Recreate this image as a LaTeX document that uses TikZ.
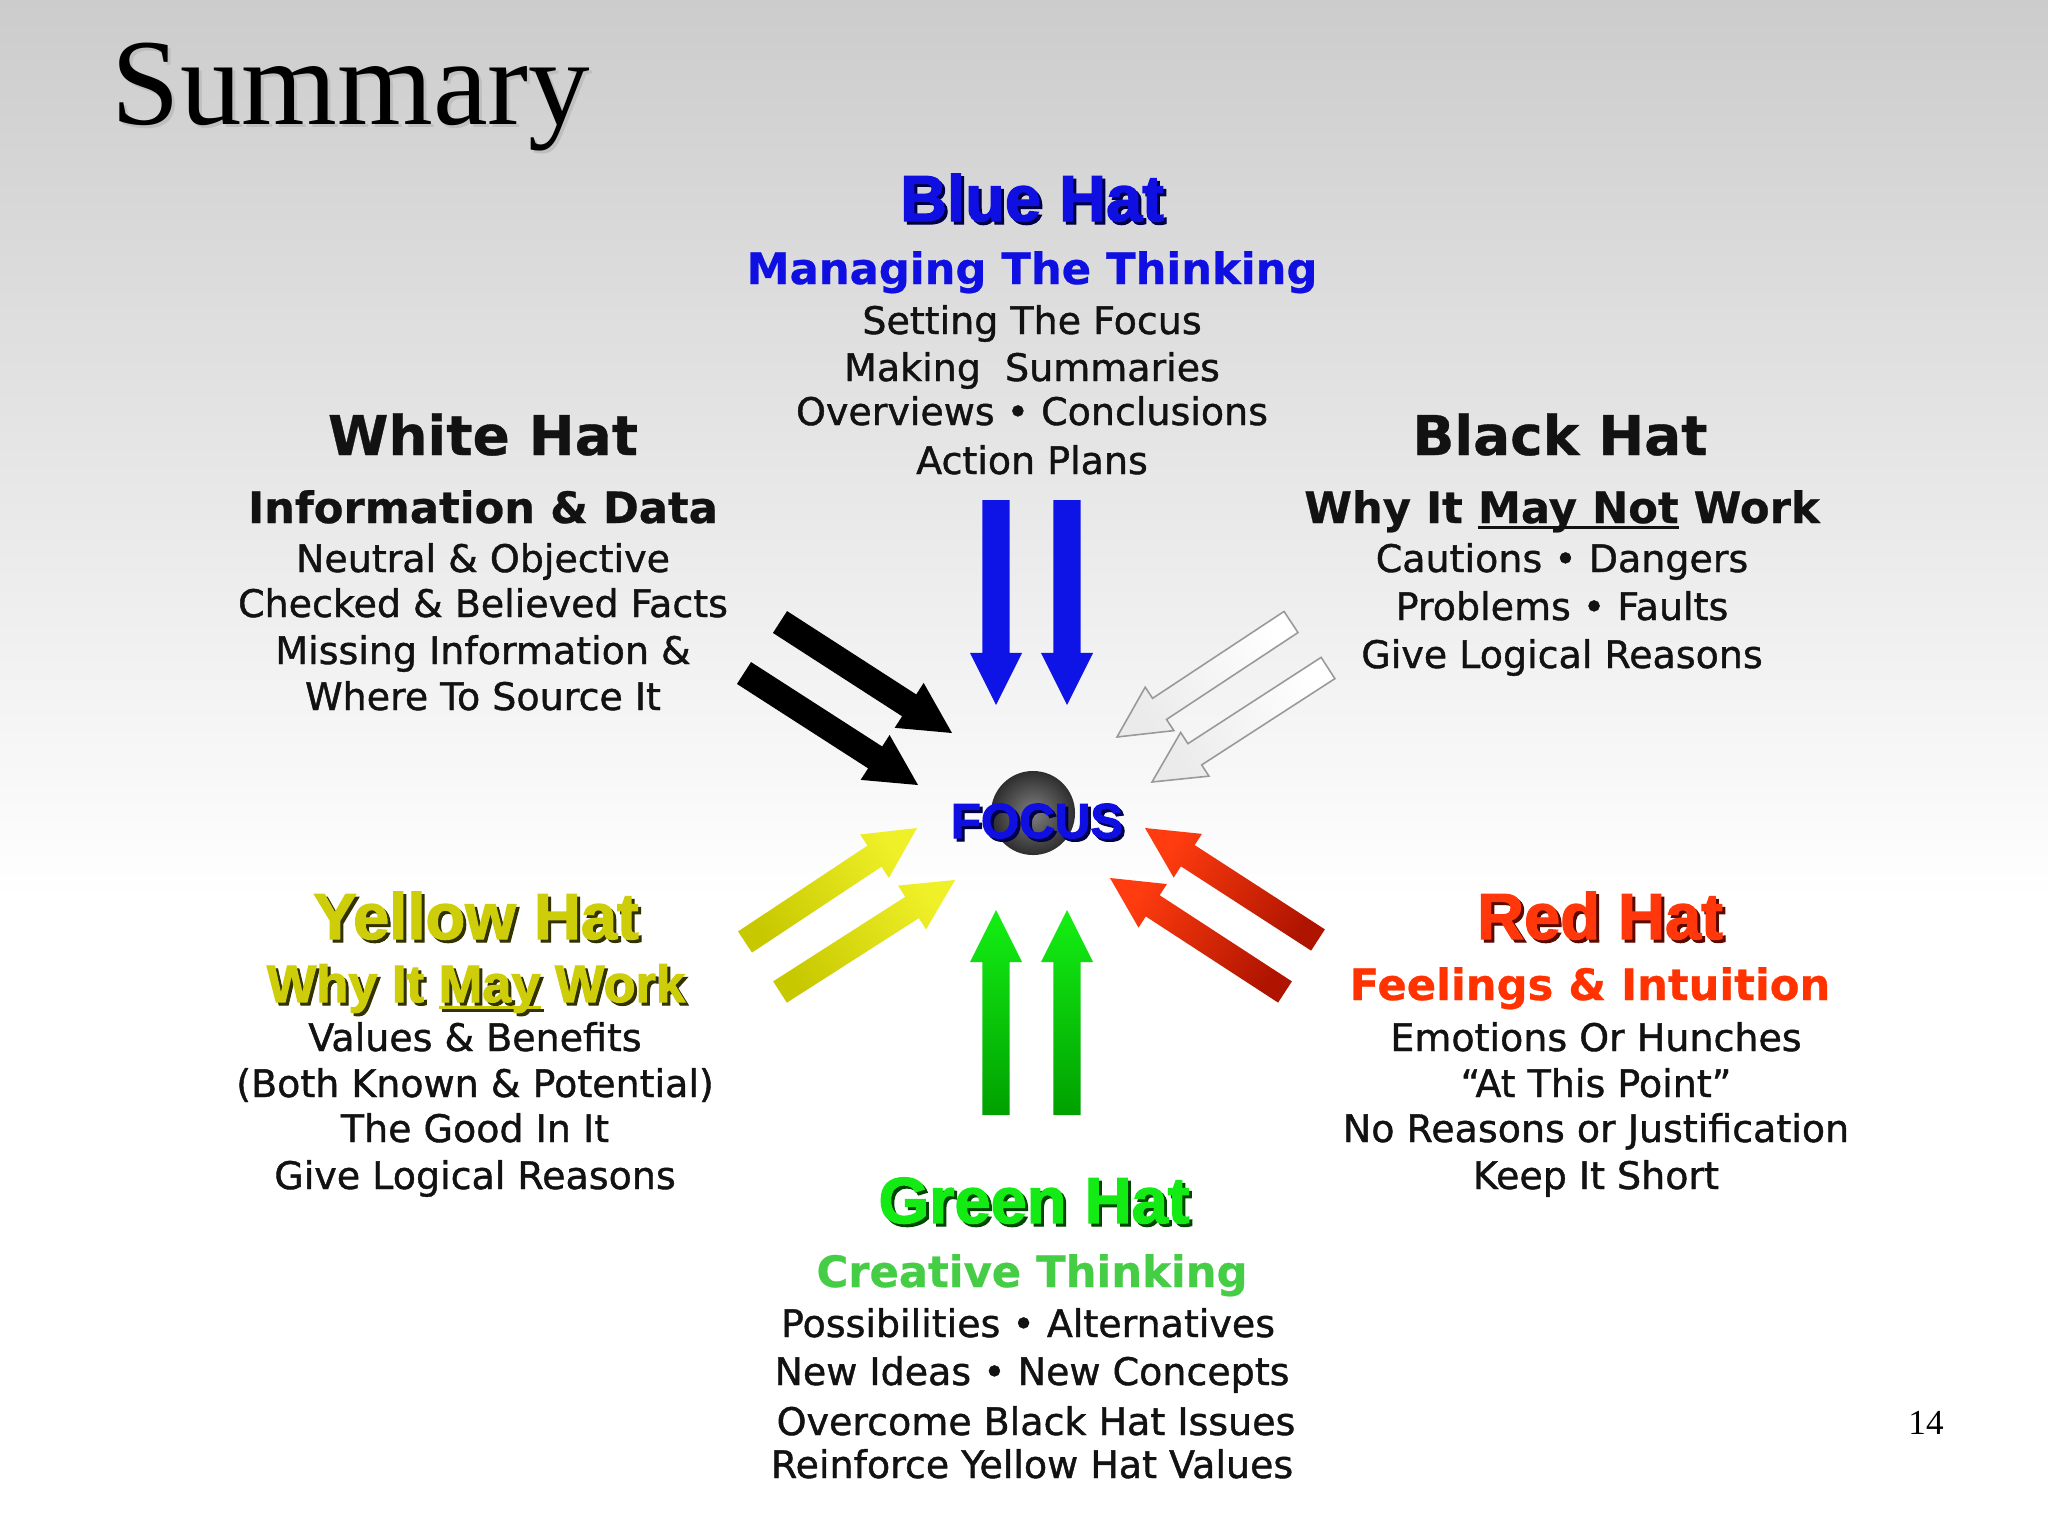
\documentclass[tikz,border=0pt]{standalone}
\usepackage{fontspec}
\usetikzlibrary{calc}
\setmainfont{Liberation Serif}
\newfontfamily\hatfont{Liberation Sans}[BoldFeatures={FakeBold=2}]
\newfontfamily\subfont{DejaVu Sans}[BoldFeatures={FakeBold=0.6}]
\newfontfamily\bodyfont{DejaVu Sans}[FakeBold=1.1]
\definecolor{txtdark}{RGB}{18,18,18}
\definecolor{bluehat}{RGB}{15,15,225}
\definecolor{blueshadow}{RGB}{0,0,70}
\definecolor{yellowhat}{RGB}{205,205,10}
\definecolor{yellowshadow}{RGB}{50,50,0}
\definecolor{redhat}{RGB}{255,55,10}
\definecolor{redshadow}{RGB}{90,10,0}
\definecolor{greenhat}{RGB}{20,235,20}
\definecolor{greenshadow}{RGB}{0,70,0}
\definecolor{greensub}{RGB}{70,205,70}
\definecolor{redsub}{RGB}{255,50,0}
\newcommand\myul[1]{\setbox0\hbox{#1}\rlap{\rule[-0.14em]{\wd0}{0.065em}}\box0\relax}
\newcommand\shtext[7]{%
  \node[#4, text=#6] (#1s) at ($(#2,#3)+(3,3)$) {#7};
  \node[#4, text=#5] (#1) at (#2,#3) {#7};}
\newcommand\blockarrow[6]{%
  \path[#1] ($(#2)!#4!90:(#3)$)
   -- ($($(#3)!#6!(#2)$)!#4!90:(#3)$)
   -- ($($(#3)!#6!(#2)$)!#5!90:(#3)$)
   -- (#3)
   -- ($($(#3)!#6!(#2)$)!#5!-90:(#3)$)
   -- ($($(#3)!#6!(#2)$)!#4!-90:(#3)$)
   -- ($(#2)!#4!-90:(#3)$) -- cycle;}
\begin{document}
\begin{tikzpicture}[x=0.01cm,y=-0.01cm,
  bodytxt/.style={font=\bodyfont\fontsize{10.8}{13}\selectfont, text=txtdark, anchor=base, inner sep=0pt},
  subtxt/.style={font=\subfont\bfseries\fontsize{12.3}{14}\selectfont, anchor=base, inner sep=0pt},
  bigtxt/.style={font=\subfont\bfseries\fontsize{15.6}{18}\selectfont, text=txtdark, anchor=base, inner sep=0pt},
  hattxt/.style={font=\hatfont\bfseries\fontsize{18.5}{20}\selectfont, anchor=base, inner sep=0pt},
  maytxt/.style={font=\hatfont\bfseries\fontsize{14.9}{17}\selectfont, anchor=base, inner sep=0pt},
  focustxt/.style={font=\hatfont\bfseries\fontsize{14}{16}\selectfont, anchor=base, inner sep=0pt},
  bluearrow/.style={fill={rgb,255:red,15;green,20;blue,230}},
  blackarrow/.style={fill=black},
  whitearrow/.style={draw=black!40, line width=0.45pt, top color=black!8, bottom color=white, shading angle=123.5},
  redarrow/.style={top color={rgb,255:red,255;green,60;blue,15}, bottom color={rgb,255:red,175;green,20;blue,0}, shading angle=57},
  yellowarrow/.style={top color={rgb,255:red,240;green,240;blue,40}, bottom color={rgb,255:red,200;green,200;blue,0}, shading angle=-56.5},
  greenarrow/.style={top color={rgb,255:red,20;green,240;blue,20}, bottom color={rgb,255:red,0;green,160;blue,0}}
]
\useasboundingbox (0,0) rectangle (2048,1536);
\fill[white] (0,0) rectangle (2048,1536);
\fill[top color=black!20, bottom color=white] (0,0) rectangle (2048,900);

% title
\node[font=\fontsize{35}{40}\selectfont, anchor=base west, inner sep=0, text=black!25] (titles) at (114,127) {Summary};
\node[font=\fontsize{35}{40}\selectfont, anchor=base west, inner sep=0] (title) at (111,124) {Summary};
\node[font=\fontsize{10}{12}\selectfont, anchor=base, inner sep=0] (pnum) at (1926,1434) {14};

% Blue hat
\shtext{blueT}{1032}{221}{hattxt}{bluehat}{blueshadow}{Blue Hat}
\node[subtxt, text=bluehat] (blueS) at (1032,284) {Managing The Thinking};
\node[bodytxt] (blue1) at (1032,334) {Setting The Focus};
\node[bodytxt] (blue2) at (1032,381) {Making\ \ Summaries};
\node[bodytxt] (blue3) at (1032,425) {Overviews • Conclusions};
\node[bodytxt] (blue4) at (1032,474) {Action Plans};

% White hat
\node[bigtxt] (whiteT) at (483,455) {White Hat};
\node[subtxt, text=txtdark] (whiteS) at (483,523) {Information \& Data};
\node[bodytxt] (white1) at (483,572) {Neutral \& Objective};
\node[bodytxt] (white2) at (483,617) {Checked \& Believed Facts};
\node[bodytxt] (white3) at (483,664) {Missing Information \&};
\node[bodytxt] (white4) at (483,710) {Where To Source It};

% Black hat
\node[bigtxt] (blackT) at (1560,455) {Black Hat};
\node[subtxt, text=txtdark] (blackS) at (1562,523) {Why It \myul{May Not} Work};
\node[bodytxt] (black1) at (1562,572) {Cautions • Dangers};
\node[bodytxt] (black2) at (1562,620) {Problems • Faults};
\node[bodytxt] (black3) at (1562,668) {Give Logical Reasons};

% Yellow hat
\shtext{yellowT}{476}{939}{hattxt}{yellowhat}{yellowshadow}{Yellow Hat}
\shtext{yellowS}{476}{1002}{maytxt}{yellowhat}{yellowshadow}{Why It \myul{May} Work}
\node[bodytxt] (yellow1) at (475,1051) {Values \& Benefits};
\node[bodytxt] (yellow2) at (475,1097) {(Both Known \& Potential)};
\node[bodytxt] (yellow3) at (475,1142) {The Good In It};
\node[bodytxt] (yellow4) at (475,1189) {Give Logical Reasons};

% Red hat
\shtext{redT}{1600}{939}{hattxt}{redhat}{redshadow}{Red Hat}
\node[subtxt, text=redsub] (redS) at (1590,1000) {Feelings \& Intuition};
\node[bodytxt] (red1) at (1596,1051) {Emotions Or Hunches};
\node[bodytxt] (red2) at (1596,1097) {“At This Point”};
\node[bodytxt] (red3) at (1596,1142) {No Reasons or Justification};
\node[bodytxt] (red4) at (1596,1189) {Keep It Short};

% Green hat
\shtext{greenT}{1034}{1223}{hattxt}{greenhat}{greenshadow}{Green Hat}
\node[subtxt, text=greensub] (greenS) at (1032,1287) {Creative Thinking};
\node[bodytxt] (green1) at (1028,1337) {Possibilities • Alternatives};
\node[bodytxt] (green2) at (1032,1385) {New Ideas • New Concepts};
\node[bodytxt] (green3) at (1036,1435) {Overcome Black Hat Issues};
\node[bodytxt] (green4) at (1032,1478) {Reinforce Yellow Hat Values};

% arrow end points
\coordinate (bl1t) at (996,500);  \coordinate (bl1h) at (996,705);
\coordinate (bl2t) at (1067,500); \coordinate (bl2h) at (1067,705);
\coordinate (gr1t) at (996,1115); \coordinate (gr1h) at (996,910);
\coordinate (gr2t) at (1067,1115);\coordinate (gr2h) at (1067,910);
\coordinate (bk1t) at (780,622);  \coordinate (bk1h) at (952,733);
\coordinate (bk2t) at (744,673);  \coordinate (bk2h) at (918,785);
\coordinate (wh1t) at (1291,622); \coordinate (wh1h) at (1117,737);
\coordinate (wh2t) at (1328,668); \coordinate (wh2h) at (1152,782);
\coordinate (rd1t) at (1318,940); \coordinate (rd1h) at (1145,828);
\coordinate (rd2t) at (1285,992); \coordinate (rd2h) at (1110,878);
\coordinate (ye1t) at (745,942);  \coordinate (ye1h) at (917,828);
\coordinate (ye2t) at (780,992);  \coordinate (ye2h) at (955,880);

\blockarrow{bluearrow}{bl1t}{bl1h}{3.85pt}{7.4pt}{14.8pt}
\blockarrow{bluearrow}{bl2t}{bl2h}{3.85pt}{7.4pt}{14.8pt}
\blockarrow{greenarrow}{gr1t}{gr1h}{3.85pt}{7.4pt}{14.8pt}
\blockarrow{greenarrow}{gr2t}{gr2h}{3.85pt}{7.4pt}{14.8pt}
\blockarrow{blackarrow}{bk1t}{bk1h}{3.7pt}{7.6pt}{14.5pt}
\blockarrow{blackarrow}{bk2t}{bk2h}{3.7pt}{7.6pt}{14.5pt}
\blockarrow{whitearrow}{wh1t}{wh1h}{3.6pt}{7.4pt}{14.5pt}
\blockarrow{whitearrow}{wh2t}{wh2h}{3.6pt}{7.4pt}{14.5pt}
\blockarrow{redarrow}{rd1t}{rd1h}{3.6pt}{7.4pt}{14.5pt}
\blockarrow{redarrow}{rd2t}{rd2h}{3.6pt}{7.4pt}{14.5pt}
\blockarrow{yellowarrow}{ye1t}{ye1h}{3.6pt}{7.4pt}{14.5pt}
\blockarrow{yellowarrow}{ye2t}{ye2h}{3.6pt}{7.4pt}{14.5pt}

% focus
\node[circle, minimum size=0.84cm, inner sep=0pt, inner color=black!50, outer color=black!82] (ball) at (1033,813) {};
\shtext{focus}{1037}{838}{focustxt}{bluehat}{blueshadow}{FOCUS}
\end{tikzpicture}
\end{document}
